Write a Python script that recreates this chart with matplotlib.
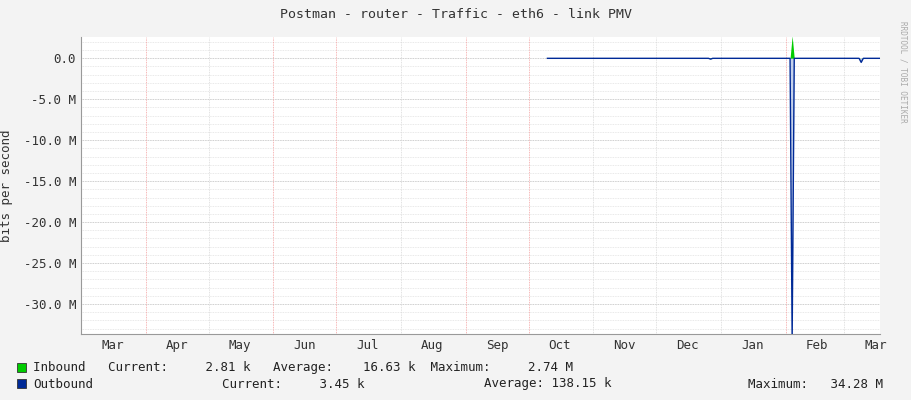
import matplotlib
matplotlib.use("Agg")
import matplotlib.pyplot as plt
import numpy as np

# data (day offset from Mar 1, value in bits/s)
in_days = [223, 260, 300, 301, 302, 339, 340, 341, 372, 373, 374, 382]
in_vals = [0.003e6, 0.003e6, 0.003e6, 0.08e6, 0.003e6, 0.003e6, 2.74e6, 0.003e6, 0.003e6, 0.02e6, 0.003e6, 0.003e6]
out_days = [223, 260, 300, 301, 302, 339, 340, 341, 372, 373, 374, 382]
out_vals = [0.003e6, 0.003e6, 0.003e6, 0.1e6, 0.003e6, 0.003e6, 34.28e6, 0.003e6, 0.003e6, 0.5e6, 0.003e6, 0.003e6]
month_labels = ["Mar", "Apr", "May", "Jun", "Jul", "Aug", "Sep", "Oct", "Nov", "Dec", "Jan", "Feb", "Mar"]
month_starts = [0, 31, 61, 92, 122, 153, 184, 214, 245, 275, 306, 337, 365]
red_grid = [31, 92, 122, 184, 214, 337]
gray_grid = [61, 153, 245, 275, 306, 365]

W, H = 911, 400
fig = plt.figure(figsize=(W/100, H/100), dpi=100, facecolor="#F3F3F3")
ax = fig.add_axes([81/W, 1-334/H, (880-81)/W, (334-37)/H])
ax.set_facecolor("white")
ax.set_xlim(0, 382)
ax.set_ylim(-33.66e6, 2.6e6)
mono = "DejaVu Sans Mono"

for y in np.arange(-33e6, 2.6e6, 1e6):
    ax.axhline(y, color="#E2E2E2", lw=0.6, ls=(0, (1, 1)), zorder=0)
for y in np.arange(-30e6, 1e6, 5e6):
    ax.axhline(y, color="#C8C8C8", lw=0.6, ls=(0, (1, 1)), zorder=0)
for x in gray_grid:
    ax.axvline(x, color="#D8D8D8", lw=0.6, ls=(0, (1, 1)), zorder=0)
for x in red_grid:
    ax.axvline(x, color="#F4A0A0", lw=0.6, ls=(0, (1, 1)), zorder=0)

ax.fill_between(in_days, 0, in_vals, color="#00CC00", lw=0, zorder=2)
ov = -np.array(out_vals)
ax.fill_between(out_days, 0, ov, color="#A0B4E0", lw=0, zorder=2, alpha=0.6)
ax.plot(out_days, ov, color="#002A97", lw=1, zorder=3)

yt = np.arange(-30e6, 1e6, 5e6)
ax.set_yticks(yt)
ax.set_yticklabels(["0.0" if v == 0 else f"{v/1e6:.1f} M" for v in yt], fontsize=9, family=mono)
ax.set_xticks([m + 15 for m in month_starts])
ax.set_xticklabels(month_labels, fontsize=9, family=mono)
ax.tick_params(axis="both", length=0, colors="#333333")
for s in ["top", "right"]:
    ax.spines[s].set_visible(False)
ax.spines["left"].set_color("#999999")
ax.spines["bottom"].set_color("#999999")
ax.set_ylabel("bits per second", fontsize=9, family=mono, color="#333333")
ax.yaxis.set_label_coords(-0.085, 0.5)

fig.text(0.5, 1-14/H, "Postman - router - Traffic - eth6 - link PMV", ha="center", va="center", fontsize=9.5, family=mono, color="#333333")
fig.text(903/W, 0.82, "RRDTOOL / TOBI OETIKER", rotation=270, ha="center", va="center", fontsize=5.5, family=mono, color="#AAAAAA")

def sq(x, y, c):
    fig.patches.append(plt.Rectangle((x/W, 1-y/H), 9/W, 9/H, transform=fig.transFigure, facecolor=c, edgecolor="#333333", lw=0.6))
sq(17, 372, "#00CC00")
sq(17, 388, "#002A97")
kw = dict(fontsize=9, family=mono, color="#222222", va="center")
fig.text(33/W, 1-368/H, "Inbound   Current:     2.81 k   Average:    16.63 k  Maximum:     2.74 M", **kw)
fig.text(33/W, 1-384/H, "Outbound", **kw)
fig.text(222/W, 1-384/H, "Current:     3.45 k", **kw)
fig.text(484/W, 1-384/H, "Average: 138.15 k", **kw)
fig.text(748/W, 1-384/H, "Maximum:   34.28 M", **kw)

fig.savefig("out.png", dpi=100, facecolor=fig.get_facecolor())
